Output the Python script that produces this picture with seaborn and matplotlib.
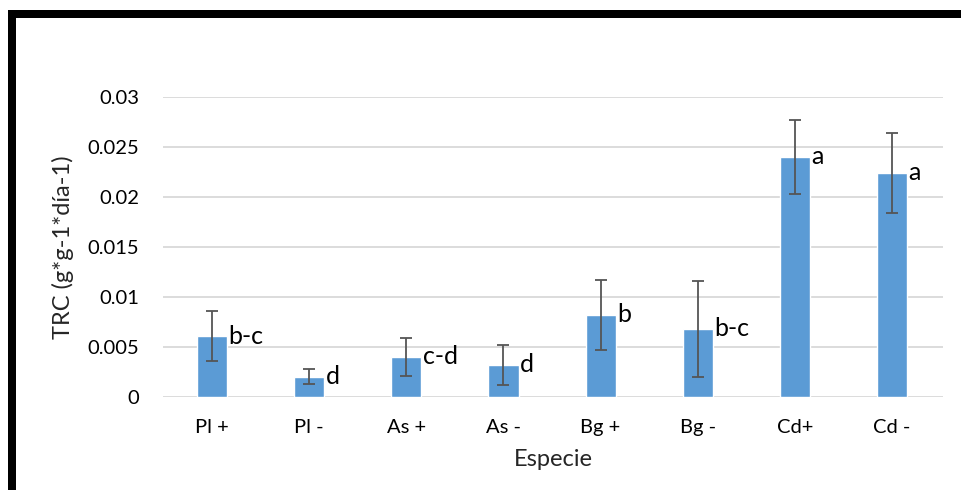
import pandas as pd
import seaborn as sns
import matplotlib.pyplot as plt
from matplotlib.patches import Rectangle

especies = ['Pl +', 'Pl -', 'As +', 'As -', 'Bg +', 'Bg -', 'Cd+', 'Cd -']
trc = [0.0061, 0.0020, 0.0040, 0.0032, 0.0082, 0.0068, 0.0240, 0.0224]
error = [0.0025, 0.00075, 0.0019, 0.0020, 0.0035, 0.0048, 0.0037, 0.0040]
letras = ['b-c', 'd', 'c-d', 'd', 'b', 'b-c', 'a', 'a']

df = pd.DataFrame({'Especie': especies, 'TRC': trc})

sns.set_theme(style="white")
plt.rcParams['font.family'] = ['Lato', 'DejaVu Sans']

fig = plt.figure(figsize=(9.62, 4.9), dpi=100)
ax = fig.add_axes([163/962, 1-397/490, (943-163)/962, 300/490])

sns.barplot(data=df, x='Especie', y='TRC', color='#5B9BD5', saturation=1,
            width=0.31, errorbar=None, ax=ax, zorder=3)
ax.errorbar(range(len(trc)), trc, yerr=error, fmt='none', ecolor='#555555',
            elinewidth=1.3, capsize=4.3, capthick=1.3, zorder=4)

for i, (v, l) in enumerate(zip(trc, letras)):
    ax.text(i + 0.17, v, l, ha='left', va='center', fontsize=18, color='black', zorder=5)

ax.set_ylim(0, 0.03)
ax.set_xlim(-0.505, 7.525)
ax.set_yticks([0, 0.005, 0.01, 0.015, 0.02, 0.025, 0.03])
ax.set_yticklabels(['0', '0.005', '0.01', '0.015', '0.02', '0.025', '0.03'])
ax.yaxis.grid(True, color='#d9d9d9', linewidth=1.3, zorder=0)
ax.set_axisbelow(True)
for s in ax.spines.values():
    s.set_visible(False)
ax.tick_params(axis='both', length=0, labelsize=14.5, colors='black')
ax.tick_params(axis='x', pad=16)
ax.tick_params(axis='y', pad=17)
ax.set_xlabel('Especie', fontsize=17, labelpad=9)
ax.set_ylabel('TRC (g*g-1*día-1)', fontsize=17, labelpad=10)

# black frame lines (top and left)
fig.add_artist(Rectangle((8/962, 0), 8/962, 1-10/490, transform=fig.transFigure,
                         color='black', lw=0))
fig.add_artist(Rectangle((8/962, 1-18/490), 1, 8/490, transform=fig.transFigure,
                         color='black', lw=0))

fig.savefig('out.png', dpi=100)
